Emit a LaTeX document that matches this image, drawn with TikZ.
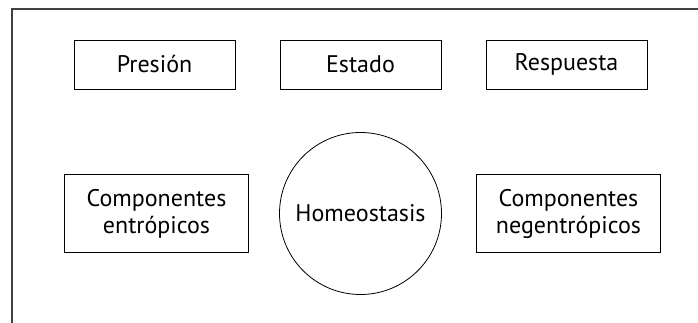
\documentclass[tikz,border=0pt]{standalone}
\usepackage{fontspec}
\setmainfont{PT Sans}
\usetikzlibrary{positioning}
\tikzset{%
  % Specifications for style of nodes:
            base/.style = {draw=black, line width=0.9pt, align=center,
                           text centered, inner sep=0pt,
                           font=\fontsize{24}{27}\selectfont},
           stage/.style = {base, rectangle, minimum width=161pt, minimum height=49pt},
       component/.style = {base, rectangle, minimum width=184pt, minimum height=78pt},
            core/.style = {base, circle, minimum size=162pt, line width=0.8pt},
}

\begin{document}
\begin{tikzpicture}[x=1pt, y=-1pt, node distance=206pt]
  \useasboundingbox (0,0) rectangle (698,323);

  % open frame round the diagram
  \coordinate (frame-tr) at (698,9);
  \coordinate (frame-tl) at (12,9);
  \coordinate (frame-bl) at (12,323);
  \draw[line width=1.3pt, black!75] (frame-tr) -- (frame-tl) -- (frame-bl);

  \node (estado)       at (360.5,64.5)  [stage]                  {Estado};
  \node (presion)                       [stage, left of=estado]  {Presión};
  \node (respuesta)                     [stage, right of=estado] {Respuesta};

  \node (homeostasis)  [core, below of=estado, node distance=149pt] {Homeostasis};
  \node (entropicos)   [component, left of=homeostasis, xshift=2pt]  {Componentes\\ entrópicos};
  \node (negentropicos)[component, right of=homeostasis, xshift=2pt] {Componentes\\ negentrópicos};

\end{tikzpicture}
\end{document}
